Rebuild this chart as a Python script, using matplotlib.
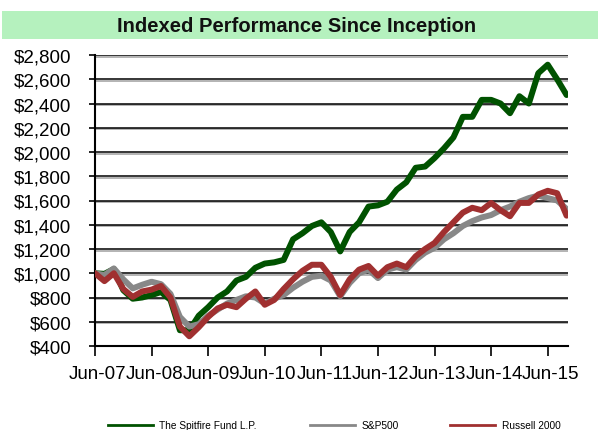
import matplotlib
matplotlib.use("Agg")
import matplotlib.pyplot as plt
import matplotlib.patheffects as pe
from matplotlib.lines import Line2D
from matplotlib.patches import Rectangle
from matplotlib.ticker import FuncFormatter
from matplotlib.transforms import ScaledTranslation

# ---- data (month offsets from Jun-2007, bimonthly) ----
months = list(range(0, 101, 2))
spitfire = [1000, 995, 1035, 860, 790, 800, 820, 845, 780, 530, 530, 650, 720, 800, 850,
            940, 970, 1045, 1080, 1090, 1110, 1280, 1330, 1390, 1420, 1340, 1180, 1340,
            1420, 1550, 1560, 1590, 1690, 1750, 1870, 1880, 1950, 2030, 2120, 2290, 2290,
            2430, 2430, 2400, 2320, 2460, 2400, 2650, 2720, 2600, 2470]
sp500 = [1000, 985, 1040, 950, 875, 905, 930, 910, 830, 640, 560, 580, 650, 700, 750,
         780, 810, 800, 750, 790, 820, 880, 930, 970, 980, 940, 810, 920, 1000, 1030,
         960, 1030, 1050, 1030, 1110, 1170, 1210, 1280, 1330, 1390, 1430, 1460, 1480,
         1520, 1550, 1590, 1620, 1640, 1620, 1600, 1530]
russell = [1000, 935, 1000, 870, 805, 850, 865, 895, 800, 560, 480, 555, 640, 710, 740,
           720, 790, 850, 740, 780, 870, 950, 1020, 1070, 1070, 970, 820, 950, 1030, 1060,
           980, 1050, 1080, 1050, 1140, 1200, 1250, 1340, 1420, 1500, 1540, 1520, 1580,
           1520, 1470, 1580, 1580, 1650, 1680, 1660, 1475]
tick_months = list(range(0, 97, 12))
tick_labels = ["Jun-07", "Jun-08", "Jun-09", "Jun-10", "Jun-11",
               "Jun-12", "Jun-13", "Jun-14", "Jun-15"]
y_ticks = list(range(400, 2801, 200))
series_names = ["The Spitfire Fund L.P.", "S&P500", "Russell 2000"]
colors = ["#005200", "#888888", "#a03030"]

plt.rcParams["font.family"] = ["Liberation Sans", "DejaVu Sans"]

W, H = 599, 431
fig = plt.figure(figsize=(W / 100, H / 100), dpi=100)

# title band
fig.add_artist(Rectangle((2 / W, 1 - 40 / H), 596 / W, 28.5 / H,
                         transform=fig.transFigure, facecolor="#b5f1be",
                         edgecolor="none"))
fig.text(297 / W, 1 - 26 / H, "Indexed Performance Since Inception",
         ha="center", va="center", fontsize=14.5, fontweight="bold", color="#111111")

ax = fig.add_axes([95 / W, 1 - 347 / H, (568 - 95) / W, (347 - 56) / H])

for vals, c in zip([spitfire, sp500, russell], colors):
    ax.plot(months, vals, color=c, lw=4.3, solid_joinstyle="round",
            solid_capstyle="round", zorder=3)

ax.set_xlim(0, 100.3)
ax.set_ylim(400, 2800)
ax.set_xticks(tick_months)
ax.set_xticklabels(tick_labels)
ax.set_yticks(y_ticks)
ax.yaxis.set_major_formatter(FuncFormatter(lambda v, p: "${:,.0f}".format(v)))

ax.grid(axis="y", color="black", lw=1.1)
for gl in ax.get_ygridlines():
    gl.set_path_effects([pe.SimpleLineShadow(offset=(0, -1.2), shadow_color="#777777",
                                             alpha=0.7), pe.Normal()])
ax.set_axisbelow(True)

for s in ["top", "right"]:
    ax.spines[s].set_visible(False)
for s in ["left", "bottom"]:
    ax.spines[s].set_linewidth(1.5)
    ax.spines[s].set_color("black")

ax.tick_params(axis="y", length=4, width=1.2, pad=13, labelsize=13.5, colors="black")
ax.tick_params(axis="x", length=7, width=1.2, pad=7, labelsize=13.5, colors="black")
shift = ScaledTranslation(3 / 100, 0, fig.dpi_scale_trans)
for lab in ax.get_xticklabels():
    lab.set_transform(lab.get_transform() + shift)

# legend (manual placement)
leg_y = 1 - 426 / H
leg_items = [(108, 153, 159), (310, 355, 362), (450, 495, 502)]
for (x0, x1, tx), name, c in zip(leg_items, series_names, colors):
    fig.add_artist(Line2D([x0 / W, x1 / W], [leg_y, leg_y], transform=fig.transFigure,
                          color=c, lw=2))
    fig.text(tx / W, leg_y, name, ha="left", va="center", fontsize=7.3, color="black")

fig.savefig("out.png", dpi=100)
